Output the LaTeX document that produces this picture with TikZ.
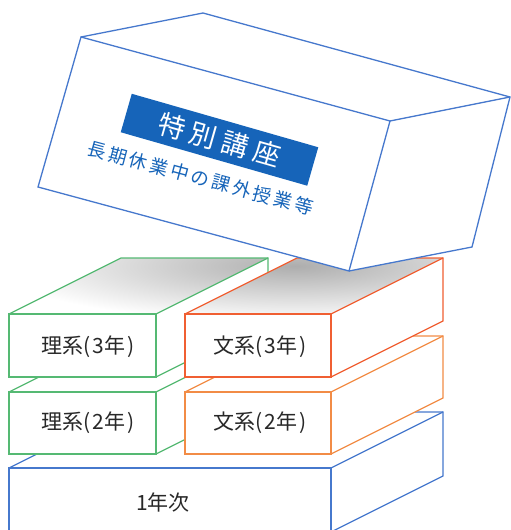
\documentclass[tikz,border=0pt]{standalone}
\usepackage{fontspec}
\setmainfont{Noto Sans CJK JP}
\definecolor{bl}{RGB}{70,120,205}
\definecolor{gr}{RGB}{85,185,115}
\definecolor{rd}{RGB}{240,95,50}
\definecolor{og}{RGB}{242,140,70}
\definecolor{titlebg}{RGB}{22,100,185}
\definecolor{txt}{RGB}{40,40,40}
\tikzset{
  edge/.style={line width=1.3pt, line join=miter},
  lbl/.style={text=txt, font=\fontsize{21}{25}\selectfont, inner sep=0pt},
}
\newcommand\cubefaces[4]{%
  \fill[white] (#1,#2) -- (#3,#2) -- (#3,#4) -- (#1,#4) -- cycle;
  \fill[white] (#1,#2) -- (#1+112,#2-56) -- (#3+112,#2-56) -- (#3,#2) -- cycle;
  \fill[white] (#3,#2) -- (#3+112,#2-56) -- (#3+112,#4-56) -- (#3,#4) -- cycle;}
\newcommand\cubelines[5]{%
  \draw[edge,draw=#5] (#1,#2) -- (#3,#2) -- (#3,#4) -- (#1,#4) -- cycle;
  \draw[edge,draw=#5] (#1,#2) -- (#1+112,#2-56) -- (#3+112,#2-56) -- (#3+112,#4-56) -- (#3,#4);
  \draw[edge,draw=#5] (#3,#2) -- (#3+112,#2-56);}
\newcommand\cubeshade[4]{%
  \begin{scope}
    \clip (#1,#2) -- (#1+112,#2-56) -- (#3+112,#2-56) -- (#3,#2) -- cycle;
    \shade[inner color=black!32, outer color=white] (295,266) ellipse [x radius=300, y radius=56];
  \end{scope}}
\begin{document}
\begin{tikzpicture}[x=1pt,y=-1pt]
\useasboundingbox (0,0) rectangle (511,530);
\clip (0,0) rectangle (511,530);
% 1st year
\cubefaces{9}{468}{331}{532}
\cubelines{9}{468}{331}{532}{bl}
% 2nd year
\cubefaces{9}{392}{156}{454}
\cubelines{9}{392}{156}{454}{gr}
\cubefaces{185}{392}{331}{454}
\cubelines{185}{392}{331}{454}{og}
% 3rd year
\cubefaces{9}{314}{156}{377}
\cubeshade{9}{314}{156}{377}
\cubelines{9}{314}{156}{377}{gr}
\cubefaces{185}{314}{331}{377}
\cubeshade{185}{314}{331}{377}
\cubelines{185}{314}{331}{377}{rd}
% top tilted box
\coordinate (A) at (81,37);
\coordinate (B) at (390,121);
\coordinate (C) at (349,271);
\coordinate (D) at (38,187);
\coordinate (A2) at (203,13);
\coordinate (B2) at (510,97);
\coordinate (C2) at (472,247);
\fill[white] (A) -- (A2) -- (B2) -- (C2) -- (C) -- (D) -- cycle;
\draw[edge,draw=bl] (A) -- (B) -- (C) -- (D) -- cycle;
\draw[edge,draw=bl] (A) -- (A2) -- (B2) -- (C2) -- (C);
\draw[edge,draw=bl] (B) -- (B2);
\node[fill=titlebg, minimum width=194pt, minimum height=40pt, rotate=-16, text=white,
      font=\fontsize{27}{30}\selectfont, inner sep=0pt] (title) at (219.5,139.75)
      {特\kern6pt 別\kern6pt 講\kern6pt 座};
\node[rotate=-15, text=titlebg, font=\fontsize{18.5}{22}\selectfont, inner sep=0pt] (sub) at (200.5,178)
      {長\kern2.9pt 期\kern2.9pt 休\kern2.9pt 業\kern2.9pt 中\kern2.9pt の\kern2.9pt 課\kern2.9pt 外\kern2.9pt 授\kern2.9pt 業\kern2.9pt 等};
% labels
\node[lbl] (r3) at (88,347) {理系(\kern2pt 3年\kern2pt)};
\node[lbl] (b3) at (260,347) {文系(\kern2pt 3年\kern2pt)};
\node[lbl] (r2) at (88,423) {理系(\kern2pt 2年\kern2pt)};
\node[lbl] (b2) at (260,423) {文系(\kern2pt 2年\kern2pt)};
\node[lbl] (y1) at (163,502) {1年次};
\end{tikzpicture}
\end{document}
